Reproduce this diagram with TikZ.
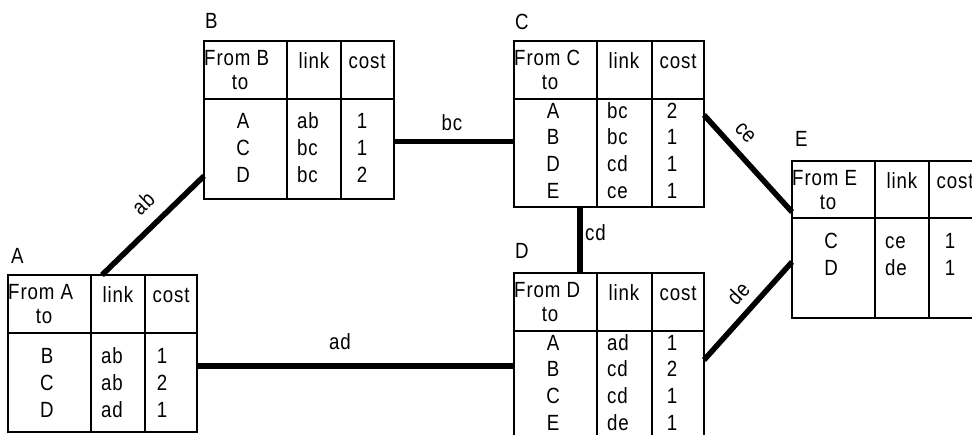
\documentclass[tikz,border=0pt]{standalone}
\usepackage{fontspec}
\setmainfont{Liberation Sans}[FakeStretch=0.85, LetterSpace=4]
\tikzset{
  tbl/.style={draw, line width=2pt, rectangle, outer sep=0pt, inner sep=0pt, anchor=north west},
  rulel/.style={line width=2pt},
  linkl/.style={line width=5.5pt},
  txt/.style={inner sep=0pt, font=\fontsize{22}{26}\selectfont},
}
\newcommand\tabgrid[4]{%
  \draw[rulel] ([xshift=#2pt]#1.north west) -- ([xshift=#2pt]#1.south west);
  \draw[rulel] ([xshift=#3pt]#1.north west) -- ([xshift=#3pt]#1.south west);
  \draw[rulel] ([yshift=-#4pt]#1.north west) -- ([yshift=-#4pt]#1.north east);}
\newcommand\tabhead[4]{%
  \node[txt, anchor=base west] (#1from) at ([yshift=-24pt]#1.north west) {From #2};
  \node[txt, anchor=base] (#1to) at ([xshift=36pt,yshift=-48pt]#1.north west) {to};
  \node[txt, anchor=base] (#1link) at ([xshift=#3pt,yshift=-27pt]#1.north west) {link};
  \node[txt, anchor=base] (#1cost) at ([xshift=#4pt,yshift=-27pt]#1.north west) {cost};}
\newcommand\tabrows[5]{%
  \foreach \d/\l/\c [count=\i] in {#5} {
    \pgfmathsetmacro\yy{#2+(\i-1)*#3}
    \node[txt, anchor=base] (#1d\i) at ([xshift=39pt,yshift=-\yy pt]#1.north west) {\d};
    \node[txt, anchor=base west] (#1l\i) at ([xshift=93pt,yshift=-\yy pt]#1.north west) {\l};
    \node[txt, anchor=base] (#1c\i) at ([xshift=#4pt,yshift=-\yy pt]#1.north west) {\c};
  }}
\begin{document}
\begin{tikzpicture}[x=1pt,y=-1pt]
\useasboundingbox (0,0) rectangle (972,434);
\clip (0,0) rectangle (972,434);
% tables
\node[tbl, minimum width=189pt, minimum height=157pt] (A) at (8,275) {};
\node[tbl, minimum width=190pt, minimum height=158pt] (B) at (204,41) {};
\node[tbl, minimum width=190pt, minimum height=166pt] (C) at (514,41) {};
\node[tbl, minimum width=190pt, minimum height=180pt] (D) at (514,273) {};
\node[tbl, minimum width=200pt, minimum height=157pt] (E) at (792,161) {};
\tabgrid{A}{83}{137}{58}
\tabgrid{B}{83}{137}{58}
\tabgrid{C}{83}{138}{58}
\tabgrid{D}{83}{138}{58}
\tabgrid{E}{83}{137}{57}
\tabhead{A}{A}{110}{163}
\tabhead{B}{B}{110}{163}
\tabhead{C}{C}{110}{164}
\tabhead{D}{D}{110}{164}
\tabhead{E}{E}{110}{163}
\tabrows{A}{88}{27}{154}{B/ab/1, C/ab/2, D/ad/1}
\tabrows{B}{87}{27}{158}{A/ab/1, C/bc/1, D/bc/2}
\tabrows{C}{77}{26.7}{158}{A/bc/2, B/bc/1, D/cd/1, E/ce/1}
\tabrows{D}{77}{26.7}{158}{A/ad/1, B/cd/2, C/cd/1, E/de/1}
\tabrows{E}{87}{27}{158}{C/ce/1, D/de/1}
% table names
\node[txt, anchor=base west] (nA) at (11,263) {A};
\node[txt, anchor=base west] (nB) at (205,28) {B};
\node[txt, anchor=base west] (nC) at (515,29) {C};
\node[txt, anchor=base west] (nD) at (515,258) {D};
\node[txt, anchor=base west] (nE) at (795,146) {E};
% links
\draw[linkl] ([xshift=94pt]A.north west) -- ([yshift=-135pt]B.north west);
\draw[linkl] ([yshift=-100.5pt]B.north east) -- ([yshift=-100.5pt]C.north west);
\draw[linkl] ([xshift=66pt]C.south west) -- ([xshift=66pt]D.north west);
\draw[linkl] ([yshift=-91pt]A.north east) -- ([yshift=-93pt]D.north west);
\draw[linkl] ([yshift=-74pt]C.north east) -- ([yshift=-51pt]E.north west);
\draw[linkl] ([yshift=-87pt]D.north east) -- ([yshift=-101pt]E.north west);
% link labels
\node[txt, rotate=44] (lab) at (143,203) {ab};
\node[txt, anchor=base] (lbc) at (452,130) {bc};
\node[txt, anchor=base west] (lcd) at (585,240) {cd};
\node[txt, anchor=base] (lad) at (340,349) {ad};
\node[txt, rotate=-48] (lce) at (745,133) {ce};
\node[txt, rotate=47] (lde) at (738,293) {de};
\end{tikzpicture}
\end{document}
